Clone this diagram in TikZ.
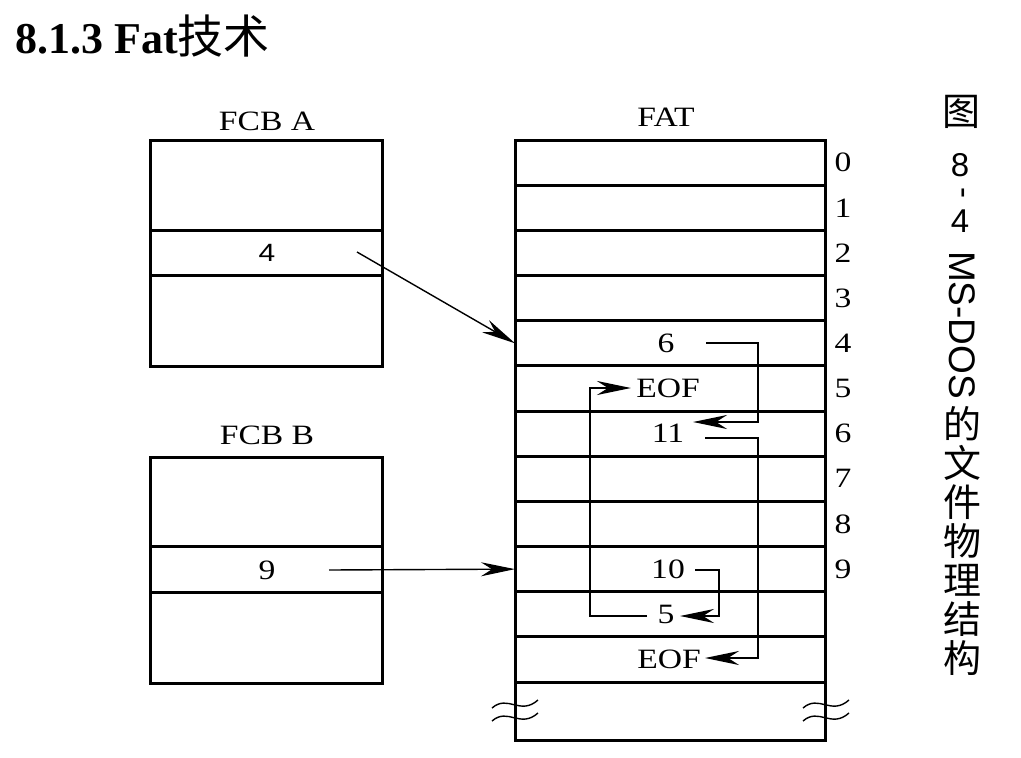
\documentclass[tikz,border=0pt]{standalone}
\usepackage{fontspec}
\setmainfont{Liberation Serif}
\newfontfamily\figfont[FakeStretch=1.2]{Liberation Serif}
\newfontfamily\figsans[FakeStretch=1.2]{Liberation Sans}
\newfontfamily\capsans{Liberation Sans}
\newfontfamily\cjk{Noto Sans CJK SC}
\usetikzlibrary{arrows.meta}
\usetikzlibrary{positioning}
\usetikzlibrary{calc}

\tikzset{
  cell/.style={draw, line width=3pt},
  lbl/.style={inner sep=0pt, font=\figfont\fontsize{28}{28}\selectfont},
  link/.style={->, line width=2.8pt},
  ptr/.style={->, line width=1.4pt},
  brk/.style={line width=1.4pt},
  captxt/.style={inner sep=0pt, font=\capsans\fontsize{33}{33}\selectfont}
}

\begin{document}
\begin{tikzpicture}[x=1pt, y=-1pt, >={Stealth[length=34pt, width=14pt, inset=11pt]}]
 \useasboundingbox (0,0) rectangle (1021,758);

 %title
 \node[anchor=base west, inner sep=0pt, font=\fontsize{44}{44}\selectfont\bfseries] (title) at (15,53) {8.1.3 Fat{\cjk\mdseries\fontsize{46}{46}\selectfont 技术}};

 %FCB A
 \def\dx{150}
 \def\dy{140};
 \node[lbl] (FCBA) at (267,121) {FCB A};
 \draw[cell] (\dx,\dy) rectangle (\dx+232,\dy+226);
 \draw[cell] (\dx,\dy+90) -- (\dx+232,\dy+90);
 \draw[cell] (\dx,\dy+135) -- (\dx+232,\dy+135);
 \node[inner sep=0pt, font=\figsans\fontsize{25}{25}\selectfont] (PA) at (\dx+117,\dy+113) {4};

 %FCB B
 \def\dx{150}
 \def\dy{457};
 \node[lbl] (FCBB) at (267,435) {FCB B};
 \draw[cell] (\dx,\dy) rectangle (\dx+232,\dy+226);
 \draw[cell] (\dx,\dy+89) -- (\dx+232,\dy+89);
 \draw[cell] (\dx,\dy+135) -- (\dx+232,\dy+135);
 \node[lbl] (PB) at (\dx+117,\dy+113) {9};

 %FAT
 \def\dx{515}
 \def\dy{140};
 \def\h{45.17}
 \node[lbl] (FAT) at (666,117) {FAT};
 \foreach \i in {0,...,11} {
         \draw[cell] (\dx,\dy+\i*\h) rectangle (\dx+310,\dy+\i*\h+\h);
         \coordinate (L\i) at (\dx,\dy+\i*\h+\h/2);
 }
 \draw[cell] (\dx,\dy+12*\h) -- (\dx,740) -- (\dx+310,740) -- (\dx+310,\dy+12*\h);

 %row numbers
 \foreach \i in {0,...,9} {
         \node[lbl] (N\i) at (843,\dy+\i*\h+\h/2) {\i};
 }

 %entries
 \foreach \i/\x/\val in {4/666/6, 5/668/EOF, 6/668/11, 9/668/10, 10/666/5, 11/669/EOF} {
         \node[lbl] (V\i) at (\x,\dy+\i*\h+\h/2) {\val};
 }

 %breaks
 \foreach \x in {492,803} {
         \draw[brk] (\x,708) .. controls (\x+16,694) and (\x+28,716) .. (\x+46,700);
         \draw[brk] (\x,721) .. controls (\x+16,707) and (\x+28,729) .. (\x+46,713);
 }

 %arrows from FCB
 \coordinate (a0) at (357,252);
 \coordinate (b0) at (329,570);
 \draw[ptr] (a0) -- (L4);
 \draw[ptr] (b0) -- (L9);

 %chain
 \coordinate (s4) at (706,343);
 \coordinate (t6) at (693,422);
 \draw[link] (s4) -- (758,343) -- (758,422) -- (t6);

 \coordinate (s6) at (705,438);
 \coordinate (t11) at (705,658);
 \draw[link] (s6) -- (758,438) -- (758,658) -- (t11);

 \coordinate (s9) at (695,570);
 \coordinate (t10) at (680,616);
 \draw[link] (s9) -- (719,570) -- (719,616) -- (t10);

 \coordinate (s10) at (647,616);
 \coordinate (t5) at (631,388);
 \draw[link] (s10) -- (590,616) -- (590,388) -- (t5);

 %caption
 \node[inner sep=0pt, font=\cjk\fontsize{38}{38}\selectfont] (C0) at (961,112) {图};
 \node[captxt] (C1) at (960,165) {8};
 \node[captxt, rotate=-90] (C2) at (960,193) {-};
 \node[captxt] (C3) at (960,221) {4};
 \node[captxt, rotate=-90, font=\capsans\fontsize{37}{37}\selectfont] (C4) at (962,325) {MS-DOS};
 \foreach \i/\ch in {0/的,1/文,2/件,3/物,4/理,5/结,6/构} {
         \node[inner sep=0pt, font=\cjk\fontsize{38}{38}\selectfont] (K\i) at (962,424+\i*39) {\ch};
 }

\end{tikzpicture}
\end{document}
